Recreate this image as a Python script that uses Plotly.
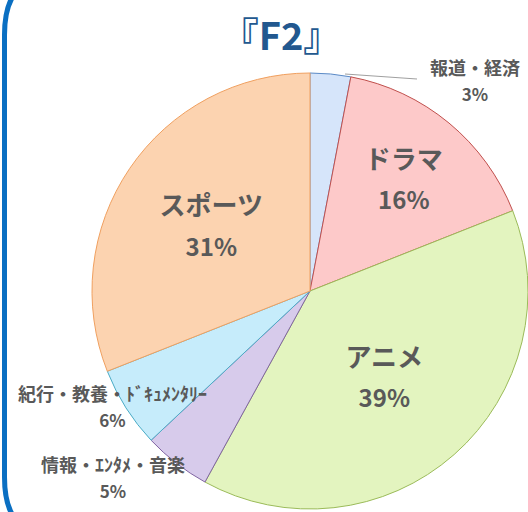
import plotly.graph_objects as go

# ---- data ----
labels = ["報道・経済", "ドラマ", "アニメ", "情報・ｴﾝﾀﾒ・音楽", "紀行・教養・ﾄﾞｷｭﾒﾝﾀﾘｰ", "スポーツ"]
values = [3, 16, 39, 5, 6, 31]
title_text = "『F2』"

fill_colors = ["#d6e5fa", "#fdc9c9", "#e3f4bf", "#d7cbeb", "#c6ecfb", "#fcd3b0"]
line_colors = ["#5b8ac6", "#c0504d", "#9bbb59", "#8064a2", "#4bacc6", "#f0a060"]
inside = [False, True, True, False, False, True]

W, H = 528, 512
TXT = "#595959"
FONT = "Noto Sans CJK JP"

fig = go.Figure()
fig.add_trace(go.Pie(
    labels=labels,
    values=values,
    sort=False,
    direction="clockwise",
    rotation=0,
    marker=dict(colors=fill_colors, line=dict(color=line_colors, width=1)),
    texttemplate="<span style='font-size:26px'>%{label}</span><br>"
                 "<span style='font-size:24px'>%{percent:.0%}</span>",
    textposition=["inside" if f else "none" for f in inside],
    insidetextorientation="horizontal",
    textfont=dict(family=FONT, size=31, color=TXT, weight="bold"),
    hoverinfo="label+percent",
    domain=dict(x=[92 / W, 1.0], y=[3 / H, 1 - 73 / H]),
    showlegend=False,
))

# outside labels for small slices
total = sum(values)
out_pos = {0: (475, 80), 3: (113, 477), 4: (112, 406)}
annotations = []
for i, (px, py) in out_pos.items():
    annotations.append(dict(
        x=px, y=py, xref="x", yref="y",
        text=f"<span style='font-size:18px'>{labels[i]}</span><br>"
             f"<span style='font-size:17px'>{round(values[i] / total * 100)}%</span>",
        showarrow=False,
        font=dict(family=FONT, size=20, color=TXT, weight="bold"),
        align="center",
        xanchor="center", yanchor="middle",
    ))

shapes = [
    # leader line for 報道・経済
    dict(type="line", xref="x", yref="y", x0=345, y0=74, x1=417, y1=79,
         line=dict(color="#a0a0a0", width=1.2)),
    # blue frame edge on the left
    dict(type="path", xref="x", yref="y",
         path="M 45,-20 Q 4.5,-20 4.5,35 L 4.5,477 Q 4.5,532 45,532",
         line=dict(color="#0a6fc2", width=5)),
]

fig.update_layout(
    width=W, height=H,
    margin=dict(l=0, r=0, t=0, b=0),
    paper_bgcolor="white",
    plot_bgcolor="rgba(0,0,0,0)",
    xaxis=dict(range=[0, W], visible=False, fixedrange=True, domain=[0, 1]),
    yaxis=dict(range=[H, 0], visible=False, fixedrange=True, domain=[0, 1]),
    title=dict(text=title_text, x=281 / W, xanchor="center", y=1 - 37 / H, yanchor="middle",
               font=dict(family=FONT, size=38, color="#22588f", weight="bold")),
    annotations=annotations,
    shapes=shapes,
)

fig.write_html("out.html",
               config={"displayModeBar": False},
               post_script="document.body.style.margin='0';document.body.style.overflow='hidden';")
